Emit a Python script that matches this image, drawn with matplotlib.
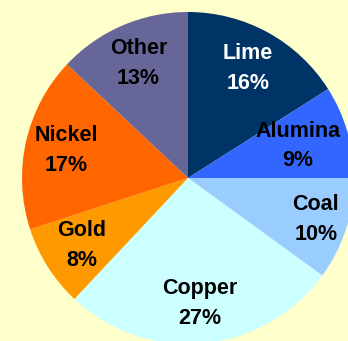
import numpy as np
import matplotlib.pyplot as plt

# Share of segments (percent), clockwise from 12 o'clock
segments = ['Lime', 'Alumina', 'Coal', 'Copper', 'Gold', 'Nickel', 'Other']
shares = [16, 9, 10, 27, 8, 17, 13]

colors = ['#003366', '#3366FF', '#99CCFF', '#CCFFFF', '#FF9900', '#FF6600', '#666699']
text_colors = ['white', 'black', 'black', 'black', 'black', 'black', 'black']
# label distance as fraction of radius (Excel nudged a couple of them)
label_r = [0.75, 0.69, 0.81, 0.76, 0.76, 0.75, 0.75]

W, H = 348, 341
fig = plt.figure(figsize=(W / 100, H / 100), dpi=100, facecolor='#FFFFCC')
ax = fig.add_axes([0, 0, 1, 1])
ax.set_facecolor('#FFFFCC')

cx, cy, rad = 188, H - 178, 166
wedges, _ = ax.pie(shares, colors=colors, startangle=90, counterclock=False,
                   center=(cx, cy), radius=rad,
                   wedgeprops=dict(linewidth=0))

for w, name, val, tc, lr in zip(wedges, segments, shares, text_colors, label_r):
    mid = np.deg2rad((w.theta1 + w.theta2) / 2)
    x = cx + lr * rad * np.cos(mid)
    y = cy + lr * rad * np.sin(mid)
    ax.text(x, y, f'{name}\n{val}%', ha='center', va='center',
            color=tc, fontsize=15.5, fontweight='bold',
            family='Liberation Sans', linespacing=1.55)

ax.set_xlim(0, W)
ax.set_ylim(0, H)
ax.set_aspect('equal')
ax.axis('off')

plt.savefig('out.png', dpi=100, facecolor='#FFFFCC')
plt.close()
